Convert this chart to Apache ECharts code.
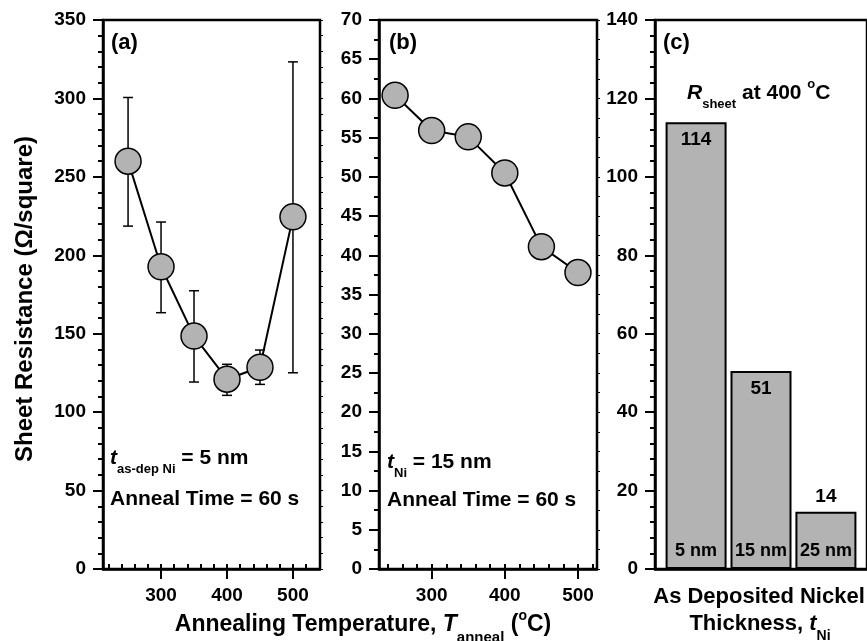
<!DOCTYPE html>
<html>
<head>
<meta charset="utf-8">
<script src="https://cdn.jsdelivr.net/npm/echarts@6/dist/echarts.min.js"></script>
<style>
  html, body { margin: 0; padding: 0; background: #fff; }
  #main { width: 867px; height: 641px; }
</style>
</head>
<body>
<div id="main"></div>
<script>
  // panel (a) + (b): anneal temperature sweep
  const temps = [250, 300, 350, 400, 450, 500]
  const resA = [260, 192.7, 148.5, 121, 128.6, 224.5]
  const errHighA = [300.6, 221.2, 177.4, 130.5, 139.6, 323.3]
  const errLowA = [218.6, 163.4, 119.2, 110.7, 117.7, 125.1]
  const resB = [60.4, 55.9, 55.1, 50.5, 41.1, 37.8]
  // panel (c): Rsheet at 400 C vs thickness
  const thickness = ['5 nm', '15 nm', '25 nm']
  const resC = [113.9, 50.5, 14.6]
  const resCLabels = ['114', '51', '14']
  // tick labels
  const tempMajor = [300, 400, 500]
  const tempMinorA = [220, 240, 260, 280, 300, 320, 340, 360, 380, 400, 420, 440, 460, 480, 500, 520, 540]
  const tempMinorB = [240, 260, 280, 300, 320, 340, 360, 380, 400, 420, 440, 460, 480, 500, 520]

  const FONT = 'Liberation Sans, Arial, sans-serif'
  const BLACK = '#000'
  const GRAY = '#b3b3b3'

  let myChart = echarts.init(document.getElementById('main'), null, { renderer: 'canvas' })

  let gridBox = { show: true, borderColor: BLACK, borderWidth: 2.5, backgroundColor: 'transparent' }

  // main x axis (big ticks + labels) and an overlay axis for the small ticks
  let tempAxis = (grid, min, max) => ([
    {
      type: 'value', gridIndex: grid, min: min, max: max,
      axisLine: { show: true, lineStyle: { color: BLACK, width: 2.5 } },
      axisTick: { show: true, customValues: tempMajor, length: 10, lineStyle: { color: BLACK, width: 2 } },
      axisLabel: { customValues: tempMajor, color: BLACK, fontFamily: FONT, fontWeight: 'bold', fontSize: 19, margin: 17 },
      splitLine: { show: false }
    },
    {
      type: 'value', gridIndex: grid, min: min, max: max,
      axisLine: { show: false },
      axisTick: { show: true, customValues: grid === 0 ? tempMinorA : tempMinorB, length: 5, lineStyle: { color: BLACK, width: 2 } },
      axisLabel: { show: false },
      splitLine: { show: false }
    }
  ])

  let resAxis = (grid, max, interval, minorSplit) => ([
    {
      type: 'value', gridIndex: grid, min: 0, max: max, interval: interval,
      axisLine: { show: true, lineStyle: { color: BLACK, width: 2.5 } },
      axisTick: { show: true, length: 10, lineStyle: { color: BLACK, width: 2 } },
      minorTick: { show: true, splitNumber: minorSplit, length: 5, lineStyle: { color: BLACK, width: 2 } },
      axisLabel: { color: BLACK, fontFamily: FONT, fontWeight: 'bold', fontSize: 19, margin: 17 },
      splitLine: { show: false },
      minorSplitLine: { show: false }
    },
    {
      type: 'value', gridIndex: grid, min: 0, max: max, interval: interval, position: 'right',
      axisLine: { show: false },
      axisTick: { show: grid !== 2, length: 3, lineStyle: { color: BLACK, width: 1 } },
      minorTick: { show: grid !== 2, splitNumber: minorSplit, length: 3, lineStyle: { color: BLACK, width: 1 } },
      axisLabel: { show: false },
      splitLine: { show: false }
    }
  ])

  let errorBars = (params, api) => {
    let lo = api.coord([api.value(0), api.value(1)])
    let hi = api.coord([api.value(0), api.value(2)])
    let cap = 5
    let style = { stroke: BLACK, lineWidth: 1.5 }
    return {
      type: 'group',
      children: [
        { type: 'line', shape: { x1: lo[0], y1: lo[1], x2: hi[0], y2: hi[1] }, style: style },
        { type: 'line', shape: { x1: lo[0] - cap, y1: lo[1], x2: lo[0] + cap, y2: lo[1] }, style: style },
        { type: 'line', shape: { x1: hi[0] - cap, y1: hi[1], x2: hi[0] + cap, y2: hi[1] }, style: style }
      ]
    }
  }

  let pointLine = (xi, yi, values) => ({
    type: 'line',
    xAxisIndex: xi,
    yAxisIndex: yi,
    data: temps.map((t, i) => [t, values[i]]),
    symbol: 'circle',
    symbolSize: 26,
    lineStyle: { color: BLACK, width: 2 },
    itemStyle: { color: GRAY, borderColor: BLACK, borderWidth: 1.5 },
    emphasis: { disabled: true },
    z: 3
  })

  let txt = (size, extra) => Object.assign({ fontFamily: FONT, fontSize: size, fontWeight: 'bold', color: BLACK }, extra || {})

  // rich styles scaled to the main text size: normal, italic, subscript, superscript
  let richFor = (size) => ({
    n: txt(size),
    i: txt(size, { fontStyle: 'italic' }),
    s: txt(Math.round(size * 0.64), { padding: [Math.round(size * 1.1), 0, 0, 0] }),
    sup: txt(Math.round(size * 0.6), { padding: [0, 0, Math.round(size * 0.8), 0] })
  })

  let label = (x, y, text, opts) => {
    opts = opts || {}
    let size = opts.size || 21
    return {
      type: 'text',
      x: x,
      y: y,
      rotation: opts.rotation || 0,
      style: {
        text: text,
        rich: richFor(size),
        font: 'bold ' + size + 'px ' + FONT,
        fill: BLACK,
        textAlign: opts.align || 'left',
        textVerticalAlign: 'middle'
      }
    }
  }

  let option = {
    animation: false,
    backgroundColor: '#fff',
    grid: [
      Object.assign({ left: 103, top: 20, width: 217, height: 549 }, gridBox),
      Object.assign({ left: 379, top: 20, width: 218, height: 549 }, gridBox),
      Object.assign({ left: 655, top: 20, width: 216, height: 549 }, gridBox)
    ],
    xAxis: [
      ...tempAxis(0, 212, 541),
      ...tempAxis(1, 228, 526),
      {
        type: 'value', gridIndex: 2, min: 0.367, max: 3.633,
        axisLine: { show: true, lineStyle: { color: BLACK, width: 2.5 } },
        axisTick: { show: false },
        axisLabel: { show: false },
        splitLine: { show: false }
      }
    ],
    yAxis: [
      ...resAxis(0, 350, 50, 5),
      ...resAxis(1, 70, 5, 2),
      ...resAxis(2, 140, 20, 5)
    ],
    series: [
      {
        type: 'custom',
        xAxisIndex: 0,
        yAxisIndex: 0,
        renderItem: errorBars,
        encode: { x: 0, y: [1, 2] },
        data: temps.map((t, i) => [t, errLowA[i], errHighA[i]]),
        z: 1
      },
      pointLine(0, 0, resA),
      pointLine(2, 2, resB),
      {
        type: 'bar',
        xAxisIndex: 4,
        yAxisIndex: 4,
        barWidth: 61,
        data: resC.map((v, i) => i === 2
          ? { value: [i + 1, v], label: { position: 'top', distance: 5 } }
          : { value: [i + 1, v] }),
        itemStyle: { color: GRAY, borderColor: BLACK, borderWidth: 2 },
        label: {
          show: true,
          position: 'insideTop',
          distance: 8,
          formatter: (p) => resCLabels[p.dataIndex],
          fontFamily: FONT, fontWeight: 'bold', fontSize: 19, color: BLACK
        },
        emphasis: { disabled: true }
      },
      {
        type: 'bar',
        xAxisIndex: 4,
        yAxisIndex: 4,
        barWidth: 61,
        barGap: '-100%',
        data: resC.map((v, i) => [i + 1, v]),
        itemStyle: { color: 'transparent', borderWidth: 0 },
        label: {
          show: true,
          position: 'insideBottom',
          distance: 9,
          formatter: (p) => thickness[p.dataIndex],
          fontFamily: FONT, fontWeight: 'bold', fontSize: 18, color: BLACK
        },
        emphasis: { disabled: true },
        z: 3
      }
    ],
    graphic: [
      label(111, 43, '{n|(a)}', { size: 22 }),
      label(389, 43, '{n|(b)}', { size: 22 }),
      label(663, 43, '{n|(c)}', { size: 22 }),
      label(687, 93, '{i|R}{s|sheet}{n| at 400 }{sup|o}{n|C}', { size: 21 }),
      label(110, 458, '{i|t}{s|as-dep Ni}{n| = 5 nm}'),
      label(110, 499, '{n|Anneal Time = 60 s}'),
      label(387, 462, '{i|t}{s|Ni}{n| = 15 nm}'),
      label(387, 500, '{n|Anneal Time = 60 s}'),
      label(25, 299, '{n|Sheet Resistance (Ω/square)}', { align: 'center', rotation: Math.PI / 2, size: 24 }),
      label(363, 625, '{n|Annealing Temperature, }{i|T}{s|anneal}{n| (}{sup|o}{n|C)}', { align: 'center', size: 23 }),
      label(759, 597, '{n|As Deposited Nickel}', { align: 'center', size: 22 }),
      label(760, 624, '{n|Thickness, }{i|t}{s|Ni}', { align: 'center', size: 22 })
    ]
  }

  myChart.setOption(option)
</script>
</body>
</html>
